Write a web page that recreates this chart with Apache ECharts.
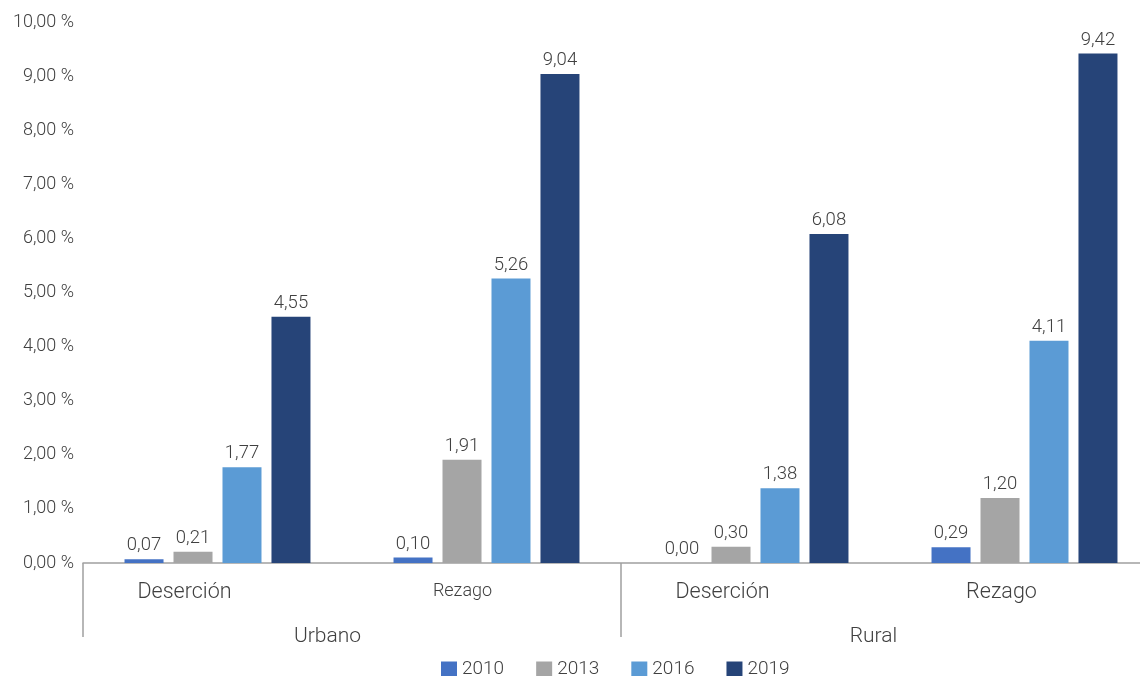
<!DOCTYPE html>
<html><head><meta charset="utf-8">
<script src="https://cdn.jsdelivr.net/npm/echarts@6/dist/echarts.min.js"></script>
<style>html,body{margin:0;padding:0;background:#fff}#c{width:1140px;height:676px}</style>
</head><body><div id="c"></div>
<script>
const categories = ['Deserción', 'Rezago', 'Deserción', 'Rezago'];
const groups = ['Urbano', 'Rural'];
const seriesNames = ['2010', '2013', '2016', '2019'];
const v2010 = [0.07, 0.10, 0.00, 0.29];
const v2013 = [0.21, 1.91, 0.30, 1.20];
const v2016 = [1.77, 5.26, 1.38, 4.11];
const v2019 = [4.55, 9.04, 6.08, 9.42];
const colors = ['#4472C4', '#A5A5A5', '#5B9BD5', '#264478'];

const fmt = v => v.toFixed(2).replace('.', ',');
const font = 'Roboto';
const txt = '#404040';
const chart = echarts.init(document.getElementById('c'));
const data = [v2010, v2013, v2016, v2019];
const base = { color: txt, fontFamily: font, fontWeight: 300 };
chart.setOption({
  animation: false,
  textStyle: { fontFamily: font, fontWeight: 300 },
  grid: { left: 83, right: -19, top: 22, bottom: 113, containLabel: false, outerBoundsMode: 'none' },
  legend: {
    top: 655, left: 436, itemWidth: 16, itemHeight: 16, itemGap: 32,
    icon: 'rect',
    textStyle: { fontSize: 19, color: txt, fontFamily: font, fontWeight: 300 },
    data: seriesNames
  },
  xAxis: [{
    type: 'category', data: categories,
    axisLine: { lineStyle: { color: '#a0a0a0', width: 1.5 } },
    axisTick: { show: false },
    axisLabel: {
      margin: 19, fontSize: 21.5, color: txt, fontFamily: font, fontWeight: 300,
      formatter: (val, idx) => idx === 1 ? '{s|' + val + '}' : (idx === 3 ? '{r|' + val + '}' : '{d|' + val + '}'),
      rich: {
        d: Object.assign({ fontSize: 21.5, padding: [0, 66, 0, 0] }, base),
        s: Object.assign({ fontSize: 18, padding: [0, 48, 0, 0] }, base),
        r: Object.assign({ fontSize: 21.5, padding: [0, 46, 0, 0] }, base)
      }
    }
  }, {
    type: 'category', data: groups, position: 'bottom',
    axisLine: { show: false },
    axisTick: { show: true, length: 74, interval: 0, lineStyle: { color: '#a0a0a0', width: 1.5 } },
    axisLabel: {
      margin: 63, fontSize: 21, color: txt, fontFamily: font, fontWeight: 300,
      formatter: (val, idx) => idx === 0 ? '{u|' + val + '}' : '{v|' + val + '}',
      rich: {
        u: Object.assign({ fontSize: 21, padding: [0, 49, 0, 0] }, base),
        v: Object.assign({ fontSize: 21, padding: [0, 33, 0, 0] }, base)
      }
    }
  }],
  yAxis: {
    type: 'value', min: 0, max: 10, interval: 1,
    splitLine: { show: false },
    axisLine: { show: false }, axisTick: { show: false },
    axisLabel: { margin: 9, fontSize: 18, color: txt, fontFamily: font, fontWeight: 300,
      formatter: v => fmt(v) + ' %' }
  },
  series: seriesNames.map((n, i) => ({
    name: n, type: 'bar', data: data[i], barWidth: 39, barGap: '25.6%',
    itemStyle: { color: colors[i] },
    label: { show: true, position: 'top', distance: 4, fontSize: 18.5, color: txt,
      fontFamily: font, fontWeight: 300, formatter: p => fmt(p.value) }
  }))
});
</script></body></html>
